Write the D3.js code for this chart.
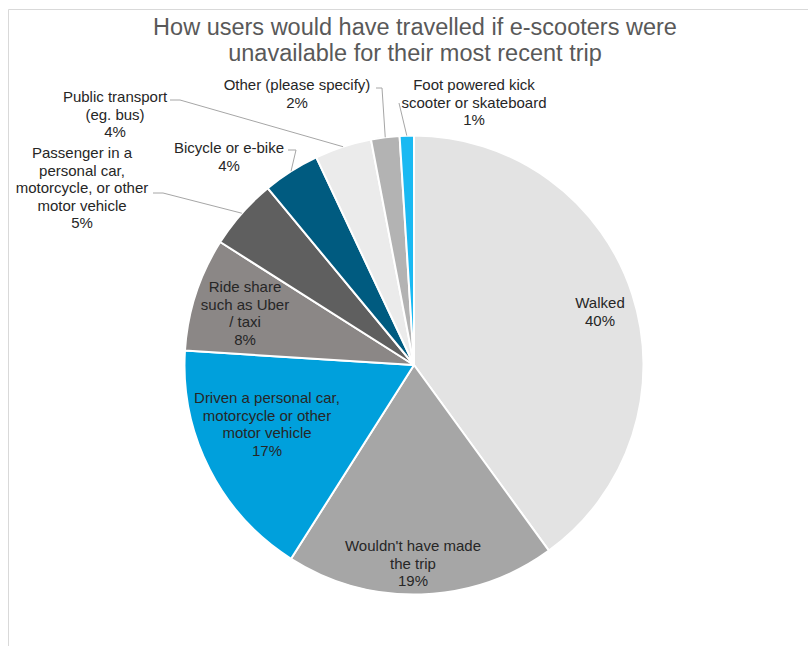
<!DOCTYPE html>
<html>
<head>
<meta charset="utf-8">
<script src="https://cdn.jsdelivr.net/npm/d3@7"></script>
<style>
  html, body { margin: 0; padding: 0; background: #fff; }
  svg { display: block; font-family: "Liberation Sans", Arial, sans-serif; }
</style>
</head>
<body>
<svg id="chart" width="808" height="646"></svg>
<script>
// Survey answers, in clockwise order from 12 o'clock
const categories = [
  "Walked",
  "Wouldn't have made the trip",
  "Driven a personal car, motorcycle or other motor vehicle",
  "Ride share such as Uber / taxi",
  "Passenger in a personal car, motorcycle, or other motor vehicle",
  "Bicycle or e-bike",
  "Public transport (eg. bus)",
  "Other (please specify)",
  "Foot powered kick scooter or skateboard"
];
const shares = [40, 19, 17, 8, 5, 4, 4, 2, 1];
const sliceColors = ["#e3e3e3", "#a6a6a6", "#00a0dc", "#8b8786", "#5f5f5f", "#005b80", "#ebebeb", "#b3b3b3", "#1ab9f2"];

// Wrapped label lines for each slice (percentage appended below)
const labelLines = [
  ["Walked"],
  ["Wouldn't have made", "the trip"],
  ["Driven a personal car,", "motorcycle or other", "motor vehicle"],
  ["Ride share", "such as Uber", "/ taxi"],
  ["Passenger in a", "personal car,", "motorcycle, or other", "motor vehicle"],
  ["Bicycle or e-bike"],
  ["Public transport", "(eg. bus)"],
  ["Other (please specify)"],
  ["Foot powered kick", "scooter or skateboard"]
];

const titleLines = ["How users would have travelled if e-scooters were", "unavailable for their most recent trip"];

// Layout: label block anchors (center x, first baseline y) and leader line starts
const labelLayout = [
  { x: 600, y: 308 },
  { x: 413, y: 551 },
  { x: 267, y: 403 },
  { x: 245, y: 292 },
  { x: 82,  y: 158, leader: [[153, 193], [163, 193]] },
  { x: 229, y: 153, leader: [[288, 150], [296, 150]] },
  { x: 115, y: 102, leader: [[170, 100], [180, 100]] },
  { x: 297, y: 90,  leader: [[376, 88], [382, 88]] },
  { x: 474, y: 90,  leader: [[399, 103]] }
];

const cx = 414, cy = 365, radius = 229.5, lineH = 17.5;

const svg = d3.select("#chart");

// Chart area frame (top and left edges visible)
svg.append("path")
  .attr("d", "M8.5,646 V9.5 H808")
  .attr("fill", "none")
  .attr("stroke", "#d9d9d9")
  .attr("stroke-width", 1);

// Title
svg.append("g").selectAll("text")
  .data(titleLines)
  .join("text")
  .attr("x", 415)
  .attr("y", (d, i) => 35 + i * 26)
  .attr("text-anchor", "middle")
  .attr("fill", "#595959")
  .attr("font-size", 23.5)
  .text(d => d);

const data = categories.map((c, i) => ({ category: c, value: shares[i], color: sliceColors[i], lines: labelLines[i], layout: labelLayout[i] }));

const pie = d3.pie().value(d => d.value).sort(null);
const arcs = pie(data);
const arc = d3.arc().innerRadius(0).outerRadius(radius);

const g = svg.append("g").attr("transform", `translate(${cx},${cy})`);

g.selectAll("path.slice")
  .data(arcs)
  .join("path")
  .attr("class", "slice")
  .attr("d", arc)
  .attr("fill", d => d.data.color)
  .attr("stroke", "#fff")
  .attr("stroke-width", 2)
  .attr("stroke-linejoin", "round");

// Leader lines from outside labels to the middle of each slice's rim
const line = d3.line();
arcs.forEach(a => {
  const lay = a.data.layout;
  if (!lay.leader) return;
  const mid = (a.startAngle + a.endAngle) / 2;
  const end = [cx + radius * Math.sin(mid), cy - radius * Math.cos(mid)];
  svg.append("path")
    .attr("d", line([...lay.leader, end]))
    .attr("fill", "none")
    .attr("stroke", "#a6a6a6")
    .attr("stroke-width", 1);
});

// Data labels: category name lines plus rounded percentage
const fmt = v => d3.format(".0f")(v) + "%";
const labels = svg.append("g")
  .attr("font-size", 15)
  .attr("fill", "#262626")
  .attr("text-anchor", "middle");

arcs.forEach(a => {
  const lay = a.data.layout;
  const lines = [...a.data.lines, fmt(a.data.value)];
  const t = labels.append("text");
  lines.forEach((ln, i) => {
    t.append("tspan")
      .attr("x", lay.x)
      .attr("y", lay.y + i * lineH)
      .text(ln);
  });
});
</script>
</body>
</html>
